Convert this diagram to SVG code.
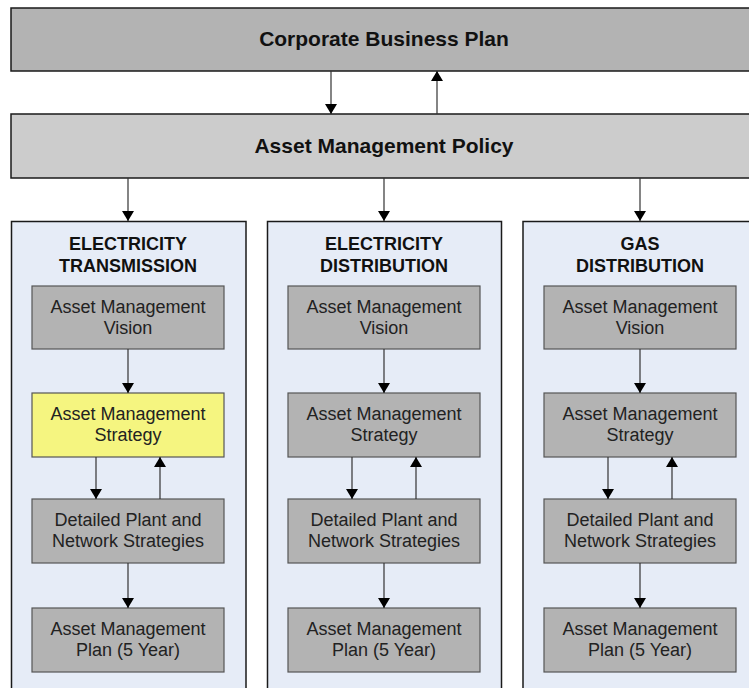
<svg xmlns="http://www.w3.org/2000/svg" width="749" height="688" viewBox="0 0 749 688">
  <defs>
    <marker id="arrow" viewBox="0 0 10 12" refX="10" refY="6" markerWidth="10" markerHeight="12" markerUnits="userSpaceOnUse" orient="auto">
      <path d="M0,0 L10,6 L0,12 Z" fill="#000"/>
    </marker>
    <style>
      .band { stroke: #1a1a1a; stroke-width: 1.5; }
      .top { fill: #b3b3b3; }
      .policy { fill: #cccccc; }
      .panel { fill: #e6ecf7; stroke: #1a1a1a; stroke-width: 1.5; }
      .step { fill: #b3b3b3; stroke: #555; stroke-width: 1.2; }
      .focus { fill: #f5f580; stroke: #555; stroke-width: 1.2; }
      .title { font-family: "Liberation Sans", Arial, sans-serif; font-weight: bold; font-size: 21px; fill: #111; text-anchor: middle; }
      .head { font-family: "Liberation Sans", Arial, sans-serif; font-weight: bold; font-size: 18px; fill: #111; text-anchor: middle; }
      .label { font-family: "Liberation Sans", Arial, sans-serif; font-size: 18px; fill: #222; text-anchor: middle; }
      .link { stroke: #333; stroke-width: 1.2; fill: none; marker-end: url(#arrow); }
    </style>
  </defs>

  <rect width="749" height="688" fill="#fff"/>

  <!-- top level bands -->
  <g id="corporate-business-plan">
    <rect class="band top" x="11" y="8" width="750" height="63"/>
    <text class="title" x="384" y="46">Corporate Business Plan</text>
  </g>
  <g id="asset-management-policy">
    <rect class="band policy" x="11" y="114" width="750" height="64"/>
    <text class="title" x="384" y="153">Asset Management Policy</text>
  </g>

  <!-- Electricity Transmission -->
  <g id="electricity-transmission">
    <rect class="panel" x="11.5" y="221.5" width="234.5" height="480"/>
    <text class="head" x="128" y="249.5">ELECTRICITY</text>
    <text class="head" x="128" y="271.5">TRANSMISSION</text>
  </g>
  <g id="et-vision">
    <rect class="step" x="32" y="286" width="192" height="63"/>
    <text class="label" x="128" y="312.5">Asset Management</text>
    <text class="label" x="128" y="333.5">Vision</text>
  </g>
  <g id="et-strategy">
    <rect class="focus" x="32" y="393" width="192" height="64"/>
    <text class="label" x="128" y="419.5">Asset Management</text>
    <text class="label" x="128" y="440.5">Strategy</text>
  </g>
  <g id="et-detailed">
    <rect class="step" x="32" y="499" width="192" height="64"/>
    <text class="label" x="128" y="526">Detailed Plant and</text>
    <text class="label" x="128" y="547">Network Strategies</text>
  </g>
  <g id="et-plan">
    <rect class="step" x="32" y="608" width="192" height="64"/>
    <text class="label" x="128" y="635">Asset Management</text>
    <text class="label" x="128" y="656">Plan (5 Year)</text>
  </g>

  <!-- Electricity Distribution -->
  <g id="electricity-distribution">
    <rect class="panel" x="267.5" y="221.5" width="234" height="480"/>
    <text class="head" x="384" y="249.5">ELECTRICITY</text>
    <text class="head" x="384" y="271.5">DISTRIBUTION</text>
  </g>
  <g id="ed-vision">
    <rect class="step" x="288" y="286" width="192" height="63"/>
    <text class="label" x="384" y="312.5">Asset Management</text>
    <text class="label" x="384" y="333.5">Vision</text>
  </g>
  <g id="ed-strategy">
    <rect class="step" x="288" y="393" width="192" height="64"/>
    <text class="label" x="384" y="419.5">Asset Management</text>
    <text class="label" x="384" y="440.5">Strategy</text>
  </g>
  <g id="ed-detailed">
    <rect class="step" x="288" y="499" width="192" height="64"/>
    <text class="label" x="384" y="526">Detailed Plant and</text>
    <text class="label" x="384" y="547">Network Strategies</text>
  </g>
  <g id="ed-plan">
    <rect class="step" x="288" y="608" width="192" height="64"/>
    <text class="label" x="384" y="635">Asset Management</text>
    <text class="label" x="384" y="656">Plan (5 Year)</text>
  </g>

  <!-- Gas Distribution -->
  <g id="gas-distribution">
    <rect class="panel" x="523" y="221.5" width="234.5" height="480"/>
    <text class="head" x="640" y="249.5">GAS</text>
    <text class="head" x="640" y="271.5">DISTRIBUTION</text>
  </g>
  <g id="gd-vision">
    <rect class="step" x="544" y="286" width="192" height="63"/>
    <text class="label" x="640" y="312.5">Asset Management</text>
    <text class="label" x="640" y="333.5">Vision</text>
  </g>
  <g id="gd-strategy">
    <rect class="step" x="544" y="393" width="192" height="64"/>
    <text class="label" x="640" y="419.5">Asset Management</text>
    <text class="label" x="640" y="440.5">Strategy</text>
  </g>
  <g id="gd-detailed">
    <rect class="step" x="544" y="499" width="192" height="64"/>
    <text class="label" x="640" y="526">Detailed Plant and</text>
    <text class="label" x="640" y="547">Network Strategies</text>
  </g>
  <g id="gd-plan">
    <rect class="step" x="544" y="608" width="192" height="64"/>
    <text class="label" x="640" y="635">Asset Management</text>
    <text class="label" x="640" y="656">Plan (5 Year)</text>
  </g>

  <!-- connectors -->
  <g id="connectors">
    <line class="link" x1="331" y1="71" x2="331" y2="114"/>
    <line class="link" x1="437" y1="114" x2="437" y2="71"/>

    <line class="link" x1="128" y1="178" x2="128" y2="221"/>
    <line class="link" x1="384" y1="178" x2="384" y2="221"/>
    <line class="link" x1="640" y1="178" x2="640" y2="221"/>

    <line class="link" x1="128" y1="349" x2="128" y2="393"/>
    <line class="link" x1="96" y1="457" x2="96" y2="499"/>
    <line class="link" x1="160" y1="499" x2="160" y2="457"/>
    <line class="link" x1="128" y1="563" x2="128" y2="608"/>

    <line class="link" x1="384" y1="349" x2="384" y2="393"/>
    <line class="link" x1="352" y1="457" x2="352" y2="499"/>
    <line class="link" x1="416" y1="499" x2="416" y2="457"/>
    <line class="link" x1="384" y1="563" x2="384" y2="608"/>

    <line class="link" x1="640" y1="349" x2="640" y2="393"/>
    <line class="link" x1="608" y1="457" x2="608" y2="499"/>
    <line class="link" x1="672" y1="499" x2="672" y2="457"/>
    <line class="link" x1="640" y1="563" x2="640" y2="608"/>
  </g>
</svg>
